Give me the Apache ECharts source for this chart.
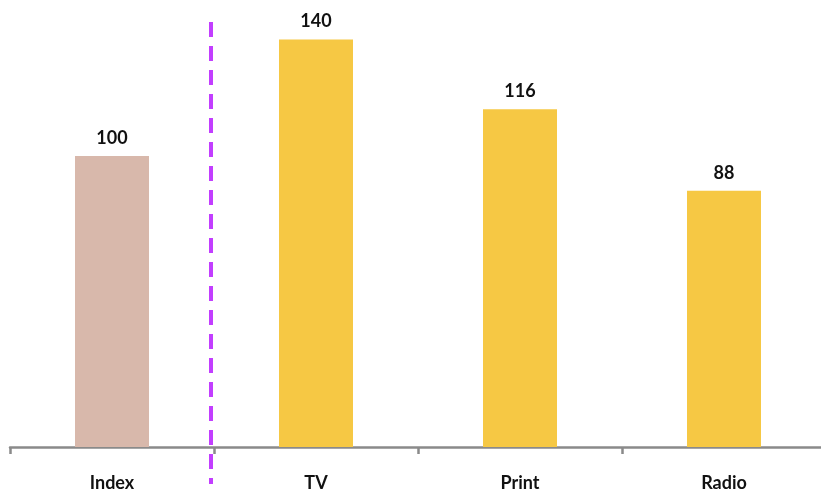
<!DOCTYPE html>
<html>
<head>
<meta charset="utf-8">
<script src="https://cdn.jsdelivr.net/npm/echarts@6/dist/echarts.min.js"></script>
<style>
html,body{margin:0;padding:0;background:#fff;overflow:hidden;width:821px;height:493px;}
#chart{width:826px;height:493px;}
</style>
</head>
<body>
<div id="chart"></div>
<script>
var categories = ['Index', 'TV', 'Print', 'Radio'];
var values = [100, 140, 116, 88];
var barColors = ['#D8B8AB', '#F6C844', '#F6C844', '#F6C844'];

var chart = echarts.init(document.getElementById('chart'), null, {renderer: 'canvas', width: 826, height: 493});
var font = 'Lato, "Liberation Sans", sans-serif';

var option = {
  animation: false,
  backgroundColor: '#ffffff',
  grid: {left: 10, right: 0, top: 22, bottom: 46, containLabel: false},
  xAxis: {
    type: 'category',
    data: categories,
    axisLine: {show: true, lineStyle: {color: '#8a8a8a', width: 2.5}},
    axisTick: {show: true, length: 7, lineStyle: {color: '#8a8a8a', width: 2.5}},
    axisLabel: {color: '#111', fontFamily: font, fontWeight: 'bold', fontSize: 18, margin: 27}
  },
  yAxis: {
    type: 'value',
    min: 0,
    max: 146,
    show: false,
    splitLine: {show: false}
  },
  series: [{
    type: 'bar',
    barWidth: 74,
    data: values.map(function (v, i) {
      return {value: v, itemStyle: {color: barColors[i]}};
    }),
    label: {
      show: true,
      position: 'top',
      distance: 9,
      color: '#111',
      fontFamily: font,
      fontWeight: 'bold',
      fontSize: 18
    }
  }]
};
chart.setOption(option);

var x0 = chart.convertToPixel({xAxisIndex: 0}, 0);
var x1 = chart.convertToPixel({xAxisIndex: 0}, 1);
var sepX = (x0 + x1) / 2 - 3;
chart.setOption({
  graphic: [{
    type: 'line',
    shape: {x1: sepX, y1: 22, x2: sepX, y2: 484},
    style: {stroke: '#C23EFF', lineWidth: 4, lineDash: [15, 9]},
    z: 10
  }]
});
</script>
</body>
</html>
